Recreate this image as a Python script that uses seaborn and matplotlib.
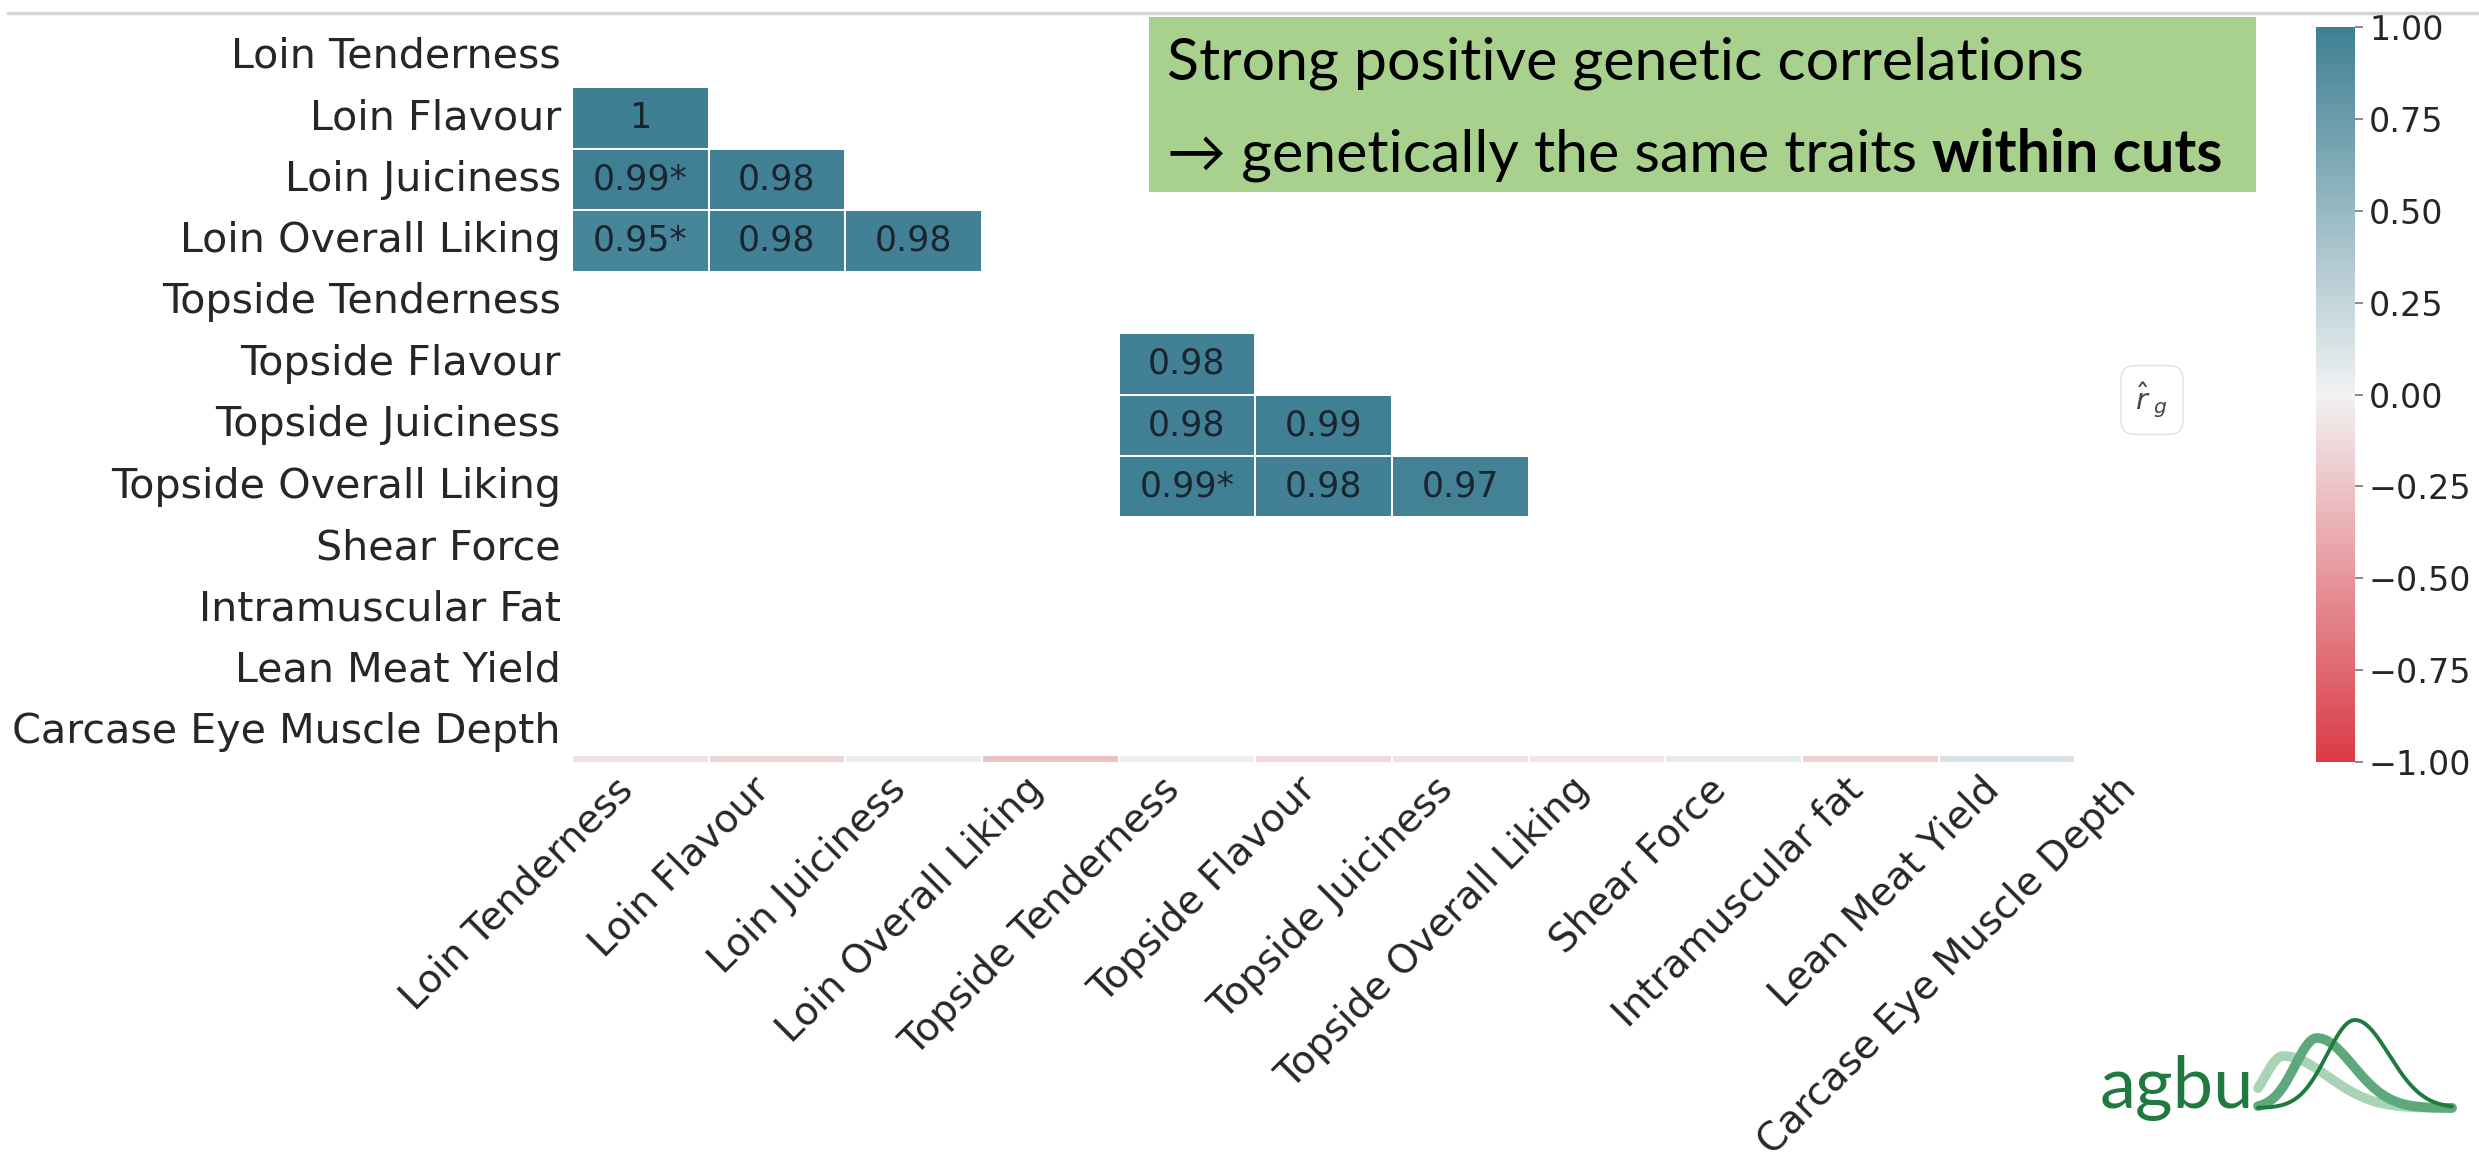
import numpy as np
import pandas as pd
import seaborn as sns
import matplotlib
matplotlib.use("Agg")
import matplotlib.pyplot as plt
from matplotlib.patches import Rectangle
from matplotlib.lines import Line2D
from matplotlib.ticker import FuncFormatter

# Trait names (rows and columns of the genetic-correlation matrix)
row_traits = [
    "Loin Tenderness", "Loin Flavour", "Loin Juiciness", "Loin Overall Liking",
    "Topside Tenderness", "Topside Flavour", "Topside Juiciness",
    "Topside Overall Liking", "Shear Force", "Intramuscular Fat",
    "Lean Meat Yield", "Carcase Eye Muscle Depth",
]
col_traits = [
    "Loin Tenderness", "Loin Flavour", "Loin Juiciness", "Loin Overall Liking",
    "Topside Tenderness", "Topside Flavour", "Topside Juiciness",
    "Topside Overall Liking", "Shear Force", "Intramuscular fat",
    "Lean Meat Yield", "Carcase Eye Muscle Depth",
]

# Genetic correlations shown within each cut (lower triangle)
loin_flavour_rg = [1.00]
loin_juiciness_rg = [0.99, 0.98]
loin_overall_rg = [0.95, 0.98, 0.98]
topside_flavour_rg = [0.98]
topside_juiciness_rg = [0.98, 0.99]
topside_overall_rg = [0.99, 0.98, 0.97]
# Carcase eye muscle depth vs the other traits
cemd_rg = [-0.10, -0.16, 0.04, -0.26, 0.02, -0.14, -0.09, -0.07, 0.05, -0.18, 0.14]

# Correlations flagged as significantly different from 1
starred = [
    ("Loin Juiciness", "Loin Tenderness"),
    ("Loin Overall Liking", "Loin Tenderness"),
    ("Topside Overall Liking", "Topside Tenderness"),
]

sns.set_theme(style="white")
plt.rcParams["font.family"] = ["DejaVu Sans"]

W, H = 2479, 1160
fig = plt.figure(figsize=(W / 100, H / 100), dpi=100)


def fx(px):
    return px / W


def fy(py):
    return 1 - py / H


# Assemble the matrix
rg = pd.DataFrame(np.nan, index=row_traits, columns=row_traits)
rows = [
    ("Loin Flavour", 0, loin_flavour_rg),
    ("Loin Juiciness", 0, loin_juiciness_rg),
    ("Loin Overall Liking", 0, loin_overall_rg),
    ("Topside Flavour", 4, topside_flavour_rg),
    ("Topside Juiciness", 4, topside_juiciness_rg),
    ("Topside Overall Liking", 4, topside_overall_rg),
    ("Carcase Eye Muscle Depth", 0, cemd_rg),
]
for name, c0, vals in rows:
    r = row_traits.index(name)
    rg.iloc[r, c0:c0 + len(vals)] = vals

labels = rg.apply(lambda col: col.map(lambda v: "" if np.isnan(v) else f"{v:.2g}"))
for r_name, c_name in starred:
    labels.loc[r_name, c_name] += "*"
labels.loc["Carcase Eye Muscle Depth", :] = ""

cmap = sns.diverging_palette(10, 220, as_cmap=True)

ax = fig.add_axes([fx(572), fy(763), fx(2212) - fx(572), fy(26) - fy(763)])
cax = fig.add_axes([fx(2316), fy(762), fx(2355) - fx(2316), fy(27) - fy(762)])

sns.heatmap(
    rg, ax=ax, cbar_ax=cax, cmap=cmap, vmin=-1, vmax=1, center=0,
    annot=labels.values, fmt="",
    annot_kws={"size": 25, "color": "#1b2530"},
    linewidths=1.2, linecolor="white",
    cbar_kws={"ticks": np.arange(-1, 1.01, 0.25)},
)

# Only a sliver of the last row is left visible
ax.add_patch(Rectangle((0, 11), 11.2, 0.88, facecolor="white",
                       edgecolor="none", zorder=5))

ax.set_xticks(np.arange(len(col_traits)) + 0.5)
ax.set_xticklabels(col_traits, rotation=45, ha="right", fontsize=28,
                   color="#262626")
ax.set_yticks(np.arange(len(row_traits)) + 0.5)
ax.set_yticklabels(row_traits, rotation=0, fontsize=29.7, color="#262626")
ax.tick_params(axis="both", length=0)
ax.tick_params(axis="y", pad=8)
ax.tick_params(axis="x", pad=5)
ax.set_xlabel("")
ax.set_ylabel("")

cbar = ax.collections[0].colorbar
cbar.ax.yaxis.set_major_formatter(
    FuncFormatter(lambda v, p: f"{v:.2f}".replace("-", "\u2212")))
cbar.ax.tick_params(labelsize=24, length=6, width=1.2, color="#777777",
                    labelcolor="#262626", pad=4)
cbar.outline.set_linewidth(0)

# r_g legend tag
fig.text(fx(2152), fy(400), r"$\hat{r}_{\ g}$", fontsize=21, color="#444444",
         ha="center", va="center",
         bbox=dict(boxstyle="round,pad=0.5", fc="white", ec="#e2e2e2", lw=1))

# Slide header rule
fig.add_artist(Line2D([fx(8), 1.0], [fy(13), fy(13)], transform=fig.transFigure,
                      color="#d4d4d4", lw=2.5))

# Message box
fig.add_artist(Rectangle((fx(1149), fy(192)), fx(2256) - fx(1149), fy(17) - fy(192),
                         transform=fig.transFigure, facecolor="#a9d18e",
                         edgecolor="none"))
box_font = ["Lato", "DejaVu Sans"]
renderer = fig.canvas.get_renderer()
t1 = fig.text(fx(1167), fy(63), "Strong positive genetic correlations",
              fontsize=40, family=box_font, va="center", ha="left", color="black")
w1 = t1.get_window_extent(renderer).width
fs = 40 * 917 / w1
t1.set_fontsize(fs)
t2 = fig.text(fx(1167), fy(155), "\u2192 genetically the same traits",
              fontsize=fs, family=box_font, va="center", ha="left", color="black")
x_end = t2.get_window_extent(renderer).x1 + 0.25 * fs * 100 / 72
fig.text(x_end / W, fy(155), "within cuts", fontsize=fs, family=box_font,
         fontweight="bold", va="center", ha="left", color="black")

# agbu logo
lax = fig.add_axes([fx(2090), fy(1140), fx(2460) - fx(2090), fy(1000) - fy(1140)])
lax.set_xlim(2090, 2460)
lax.set_ylim(1140, 1000)
lax.axis("off")
lax.text(2100, 1108, "agbu", fontsize=52, family=["Lato", "DejaVu Sans"],
         color="#1f7a3f", va="baseline", ha="left")
xs = np.linspace(2258, 2452, 400)


def bump(x, peak, amp, sl, sr):
    s = np.where(x < peak, sl, sr)
    return 1108 - amp * np.exp(-0.5 * ((x - peak) / s) ** 2)


lax.plot(xs, bump(xs, 2283, 52, 18, 45), color="#a9d3b7", lw=7,
         solid_capstyle="round")
lax.plot(xs, bump(xs, 2317, 70, 22, 36), color="#5ea97c", lw=7,
         solid_capstyle="round")
lax.plot(xs, bump(xs, 2355, 88, 28, 34), color="#1f7a3f", lw=2.8)

fig.savefig("out.png", dpi=100, facecolor="white")
